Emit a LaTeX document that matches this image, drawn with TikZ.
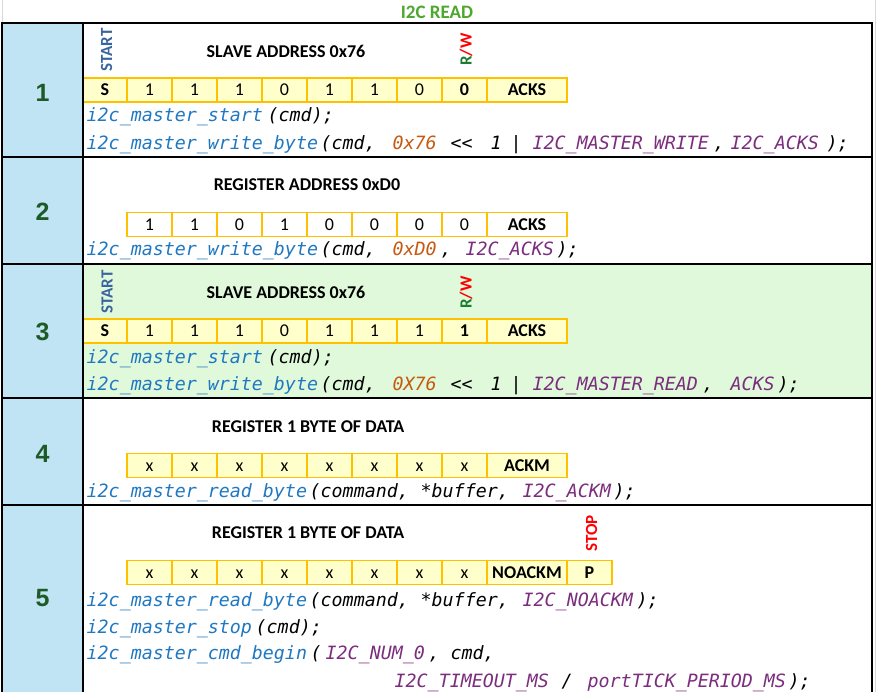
\documentclass[tikz,border=0pt]{standalone}
\usepackage{fontspec}
\setmainfont{Carlito}
\newfontfamily\codefont{DejaVu Sans Mono}
\newfontfamily\numfont{Liberation Sans}
\definecolor{colblue}{HTML}{C0E4F4}
\definecolor{rowgreen}{HTML}{E0F9DA}
\definecolor{cellyel}{HTML}{FFFFCC}
\definecolor{cellor}{HTML}{FFC000}
\definecolor{titlegreen}{HTML}{4EA72E}
\definecolor{numgreen}{HTML}{1D5A26}
\definecolor{startblue}{HTML}{3A64A0}
\definecolor{rwgreen}{HTML}{1E7B30}
\definecolor{cblue}{HTML}{1F78C1}
\definecolor{corange}{HTML}{C55A11}
\definecolor{cpurple}{HTML}{7B2D7E}
\definecolor{gridgray}{HTML}{D9D9D9}
\newcommand\tk[3]{\rlap{\hspace*{\dimexpr#1pt-86pt\relax}\textcolor{#2}{#3}}}
\tikzset{
  bitbox/.style={draw=cellor, fill=cellyel, line width=1.8pt, minimum width=45pt,
    minimum height=24pt, inner sep=0pt, outer sep=0pt, text height=12pt, text depth=0pt,
    font=\fontsize{18}{20}\selectfont},
  bitwhite/.style={bitbox, fill=white},
  bb/.style={font=\fontsize{18}{20}\selectfont\bfseries},
  head/.style={font=\fontsize{18}{20}\selectfont\bfseries, inner sep=0pt},
  vlab/.style={rotate=90, font=\fontsize{17}{20}\selectfont\bfseries, inner sep=0pt},
  rownum/.style={font=\numfont\fontsize{25}{28}\selectfont\bfseries, text=numgreen, inner sep=0pt},
  codeline/.style={anchor=base west, inner sep=0pt, font=\codefont\itshape\fontsize{18.3}{20}\selectfont},
  tabrule/.style={line width=1.3pt, black},
}
\begin{document}
\begin{tikzpicture}[x=1pt, y=-1pt]
\useasboundingbox (0,0) rectangle (876,692);
\fill[white] (0,0) rectangle (876,692);
% faint spreadsheet grid
\draw[gridgray, line width=0.8pt] (875,0) -- (875,692);
\draw[gridgray, line width=0.8pt] (2.5,0) -- (2.5,23);
% fills
\fill[colblue] (2,23) rectangle (83,692);
\fill[rowgreen] (83,264) rectangle (872,398);
% title
\node[font=\fontsize{19}{21}\selectfont\bfseries, text=titlegreen, inner sep=0pt] (title) at (437,12) {I2C READ};

% ---------- Row 1 ----------
\node[rownum] (n1) at (42.5,93) {1};
\node[vlab, text=startblue] (st1) at (106.5,50) {START};
\node[head] (h1) at (286,51) {SLAVE ADDRESS 0x76};
\node[vlab] (rw1) at (466,49.5) {\textcolor{rwgreen}{R}\textcolor{red}{/W}};
\node[bitbox, bb, minimum width=44pt] (r1s) at (105,90) {S};
\foreach \t [count=\i] in {1,1,1,0,1,1,0} {\node[bitbox] (r1b\i) at (104.5+45*\i,90) {\t};}
\node[bitbox, bb] (r1rw) at (464.5,90) {0};
\node[bitbox, bb, minimum width=80pt] (r1a) at (527,90) {ACKS};
\node[codeline] (c11) at (86,122) {\tk{86}{cblue}{i2c\_master\_start}\tk{267}{black}{(cmd);}};
\node[codeline] (c12) at (86,150) {\tk{86}{cblue}{i2c\_master\_write\_byte}\tk{320}{black}{(cmd,}\tk{392}{corange}{0x76}\tk{450}{black}{<<}\tk{490}{black}{1}\tk{510}{black}{|}\tk{532}{cpurple}{I2C\_MASTER\_WRITE}\tk{713}{black}{,}\tk{730}{cpurple}{I2C\_ACKS}\tk{826}{black}{);}};

% ---------- Row 2 ----------
\node[rownum] (n2) at (42.5,212) {2};
\node[head] (h2) at (307,185) {REGISTER ADDRESS 0xD0};
\foreach \t [count=\i] in {1,1,0,1,0,0,0,0} {\node[bitwhite] (r2b\i) at (104.5+45*\i,224.5) {\t};}
\node[bitwhite, bb, minimum width=80pt] (r2a) at (527,224.5) {ACKS};
\node[codeline] (c21) at (86,256) {\tk{86}{cblue}{i2c\_master\_write\_byte}\tk{320}{black}{(cmd,}\tk{392}{corange}{0xD0}\tk{440}{black}{,}\tk{465}{cpurple}{I2C\_ACKS}\tk{556}{black}{);}};

% ---------- Row 3 ----------
\node[rownum] (n3) at (42.5,332) {3};
\node[vlab, text=startblue] (st3) at (107,292) {START};
\node[head] (h3) at (286,292.5) {SLAVE ADDRESS 0x76};
\node[vlab] (rw3) at (466,292.5) {\textcolor{rwgreen}{R}\textcolor{red}{/W}};
\node[bitbox, bb, minimum width=44pt] (r3s) at (105,331) {S};
\foreach \t [count=\i] in {1,1,1,0,1,1,1} {\node[bitbox] (r3b\i) at (104.5+45*\i,331) {\t};}
\node[bitbox, bb] (r3rw) at (464.5,331) {1};
\node[bitbox, bb, minimum width=80pt] (r3a) at (527,331) {ACKS};
\node[codeline] (c31) at (86,364) {\tk{86}{cblue}{i2c\_master\_start}\tk{267}{black}{(cmd);}};
\node[codeline] (c32) at (86,391) {\tk{86}{cblue}{i2c\_master\_write\_byte}\tk{320}{black}{(cmd,}\tk{392}{corange}{0X76}\tk{450}{black}{<<}\tk{490}{black}{1}\tk{510}{black}{|}\tk{532}{cpurple}{I2C\_MASTER\_READ}\tk{702}{black}{,}\tk{730}{cpurple}{ACKS}\tk{777}{black}{);}};

% ---------- Row 4 ----------
\node[rownum] (n4) at (42.5,454) {4};
\node[head] (h4) at (308,426.5) {REGISTER 1 BYTE OF DATA};
\foreach \i in {1,...,8} {\node[bitbox] (r4b\i) at (104.5+45*\i,465.5) {x};}
\node[bitbox, bb, minimum width=80pt] (r4a) at (527,465.5) {ACKM};
\node[codeline] (c41) at (86,498) {\tk{86}{cblue}{i2c\_master\_read\_byte}\tk{309}{black}{(command,}\tk{420}{black}{*buffer,}\tk{522}{cpurple}{I2C\_ACKM}\tk{613}{black}{);}};

% ---------- Row 5 ----------
\node[rownum] (n5) at (42.5,598) {5};
\node[head] (h5) at (308,533) {REGISTER 1 BYTE OF DATA};
\node[vlab, text=red] (stop5) at (591.5,533.5) {STOP};
\foreach \i in {1,...,8} {\node[bitbox] (r5b\i) at (104.5+45*\i,572.5) {x};}
\node[bitbox, bb, minimum width=80pt] (r5n) at (527,572.5) {NOACKM};
\node[bitbox, bb] (r5p) at (589.5,572.5) {P};
\node[codeline] (c51) at (86,606) {\tk{86}{cblue}{i2c\_master\_read\_byte}\tk{309}{black}{(command,}\tk{420}{black}{*buffer,}\tk{522}{cpurple}{I2C\_NOACKM}\tk{636}{black}{);}};
\node[codeline] (c52) at (86,633) {\tk{86}{cblue}{i2c\_master\_stop}\tk{255}{black}{(cmd);}};
\node[codeline] (c53) at (86,659) {\tk{86}{cblue}{i2c\_master\_cmd\_begin}\tk{310}{black}{(}\tk{325}{cpurple}{I2C\_NUM\_0}\tk{428}{black}{,}\tk{450}{black}{cmd,}};
\node[codeline] (c54) at (86,687) {\tk{394}{cpurple}{I2C\_TIMEOUT\_MS}\tk{561}{black}{/}\tk{587}{cpurple}{portTICK\_PERIOD\_MS}\tk{788}{black}{);}};

% ---------- table rules ----------
\foreach \yy in {23,157,264,398,505} {\draw[tabrule] (1.4,\yy) -- (872.6,\yy);}
\draw[tabrule] (2,23) -- (2,692);
\draw[tabrule] (83,23) -- (83,692);
\draw[tabrule] (872,23) -- (872,692);
\end{tikzpicture}
\end{document}
